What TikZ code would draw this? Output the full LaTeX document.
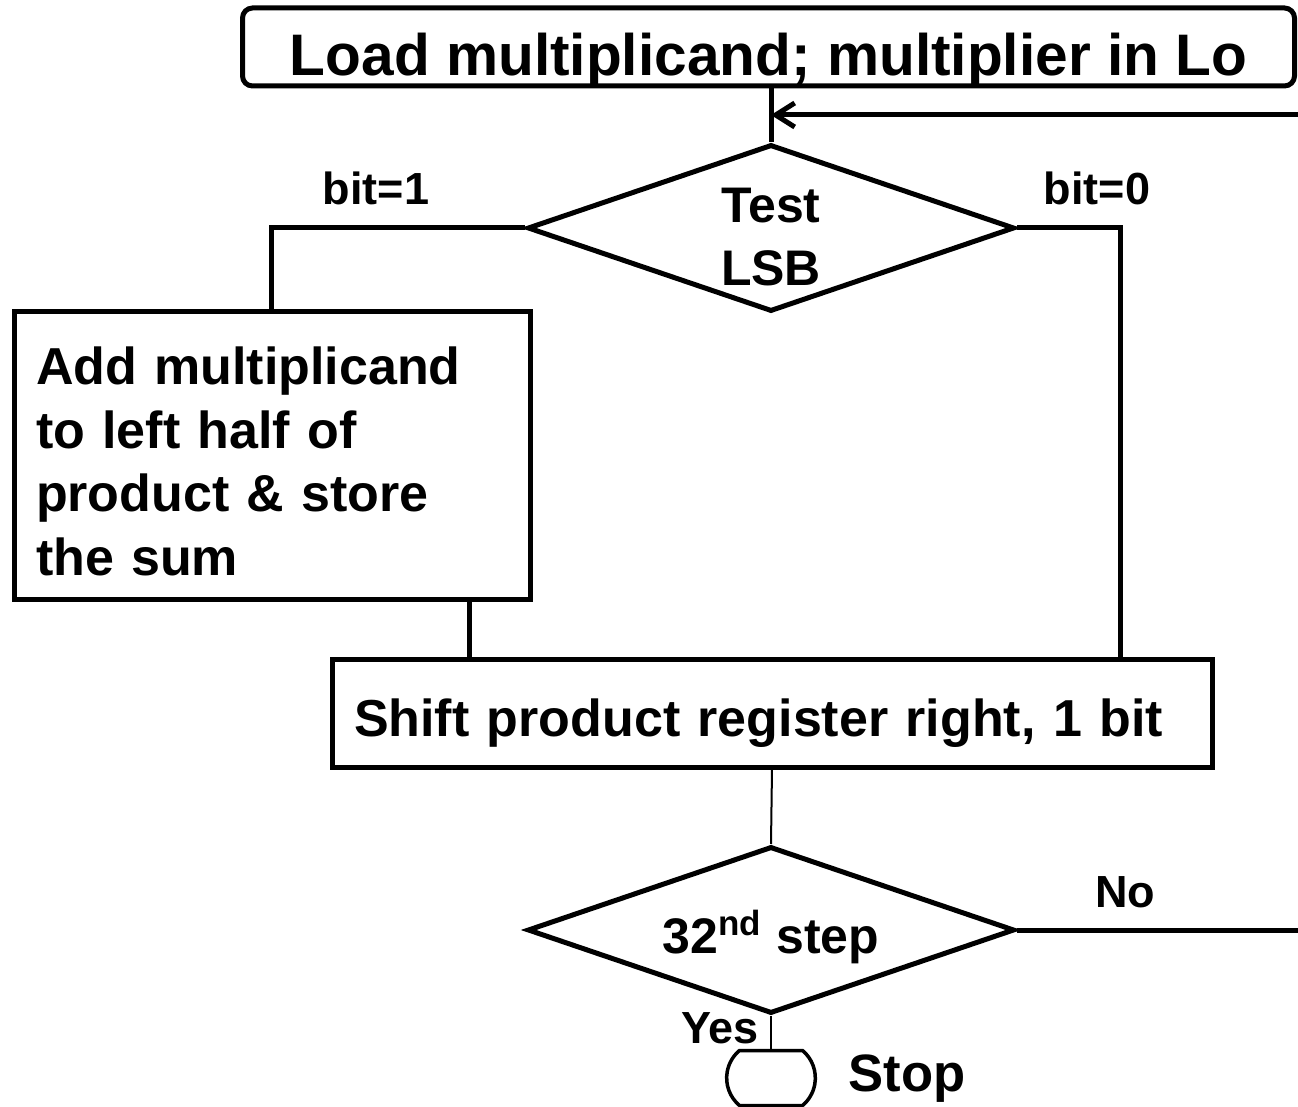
\documentclass[tikz,border=0pt]{standalone}
\usepackage{fontspec}
\setmainfont{Liberation Sans}
\usetikzlibrary{shapes.geometric, shapes.misc, arrows.meta}
\newcommand{\lowerby}[2]{\raisebox{-#1}[\height][\depth]{#2}}
\tikzstyle{startbox}=[rectangle, draw, rounded corners=5pt, line width=2.5pt, minimum width=526pt, minimum height=39pt, inner sep=0pt, font=\fontsize{29.3}{34}\selectfont\bfseries]
\tikzstyle{stepbox}=[rectangle, draw, line width=2.5pt, inner xsep=11pt, inner ysep=0pt, align=left, font=\fontsize{26}{31.75}\selectfont\bfseries]
\tikzstyle{testbox}=[diamond, draw, line width=2.5pt, aspect=2.9, minimum width=243.5pt, minimum height=83.5pt, inner sep=0pt, font=\fontsize{25}{31.5}\selectfont\bfseries]
\tikzstyle{stopbox}=[rounded rectangle, rounded rectangle arc length=100, draw, line width=1.75pt, minimum width=51pt, minimum height=27.5pt]
\tikzstyle{branch}=[font=\fontsize{22.5}{26}\selectfont\bfseries]

\begin{document}
\begin{tikzpicture}[x=0.5pt, y=-0.5pt, line width=2.5pt]
                    \useasboundingbox (0,0) rectangle (1298,1107);
                    \node[startbox] (10) at (768.5, 47) {\lowerby{6.5pt}{Load multiplicand; multiplier in Lo}};
                    \node[testbox] (20) at (771, 228) {\lowerby{6.5pt}{\begin{tabular}{@{}c@{}}Test\\LSB\end{tabular}}};
                    \node[stepbox, text width=236pt, minimum height=144pt] (30) at (272, 456) {\lowerby{5.75pt}{\begin{tabular}{@{}l@{}}Add multiplicand\\to left half of\\product \& store\\the sum\end{tabular}}};
                    \node[stepbox, text width=418pt, minimum height=53.5pt] (40) at (772, 713.5) {\lowerby{5pt}{Shift product register right, 1 bit}};
                    \node[testbox] (50) at (771, 930) {\lowerby{3.5pt}{32\textsuperscript{nd} step}};
                    \node[stopbox] (60) at (771, 1078) {};
                    \node[branch] (21) at (376, 188) {bit=1};
                    \node[branch] (22) at (1097, 188) {bit=0};
                    \node[branch] (51) at (1125, 892) {No};
                    \node[branch] (52) at (720, 1028) {Yes};
                    \node[font=\fontsize{26.3}{31}\selectfont\bfseries] (61) at (907, 1079) {Stop};
                    \coordinate (fb) at (1298, 115);
                    \coordinate (23) at (271, 228);
                    \coordinate (24) at (1120, 228);
                    \coordinate (31) at (469, 600);
                    \coordinate (no) at (1298, 930);
                    \draw (20.north |- 10.south)--(20.north);
                    \draw[-{Straight Barb[length=9.5pt, width=12pt]}] (fb)--(fb -| 20.north);
                    \draw (20.west)--(23)--(23 |- 30.north);
                    \draw (20.east)--(24)--(24 |- 40.north);
                    \draw (31)--(31 |- 40.north);
                    \draw[line width=1pt] (40.south)--(50.north);
                    \draw (50.east)--(no);
                    \draw[line width=1pt] (50.south)--(60.north);
                \end{tikzpicture}
\end{document}
